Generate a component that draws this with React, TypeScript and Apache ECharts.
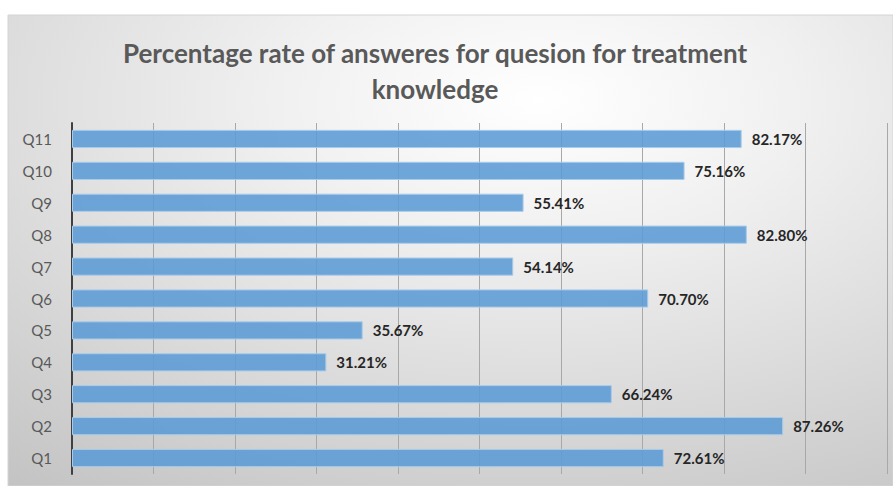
import React, { useEffect, useRef } from "react";
import * as echarts from "echarts";

const categories = ["Q1", "Q2", "Q3", "Q4", "Q5", "Q6", "Q7", "Q8", "Q9", "Q10", "Q11"];
const values = [72.61, 87.26, 66.24, 31.21, 35.67, 70.7, 54.14, 82.8, 55.41, 75.16, 82.17];
const titleLines = ["Percentage rate of answeres for quesion for treatment", "knowledge"];

export default function App() {
  const ref = useRef<HTMLDivElement>(null);
  useEffect(() => {
    if (!ref.current) return;
    const chart = echarts.init(ref.current, undefined, { renderer: "svg" });
    chart.setOption({
      animation: false,
      backgroundColor: "#ffffff",
      graphic: [
        {
          type: "rect",
          z: -10,
          silent: true,
          shape: { x: 8, y: 15, width: 885, height: 471 },
          style: {
            fill: new echarts.graphic.RadialGradient(0.6, 0.18, 1.0, [
              { offset: 0, color: "#ffffff" },
              { offset: 0.3, color: "#f0f0f0" },
              { offset: 1, color: "#c4c4c4" },
            ]),
            stroke: "#d4d4d4",
            lineWidth: 1,
          },
        },
      ],
      title: {
        text: titleLines.join("\n"),
        left: 430,
        textAlign: "center",
        top: 30,
        textStyle: {
          fontFamily: "Lato",
          fontSize: 26,
          fontWeight: "bold",
          color: "#595959",
          lineHeight: 36,
        },
      },
      grid: { left: 72, right: 6, top: 123, bottom: 12, containLabel: false },
      xAxis: {
        type: "value",
        min: 0,
        max: 100,
        interval: 10,
        axisLabel: { show: false },
        axisLine: { show: false },
        axisTick: { show: false },
        splitLine: { show: true, lineStyle: { color: "#a8a8a8", width: 1 } },
      },
      yAxis: {
        type: "category",
        data: categories,
        axisLine: { show: true, lineStyle: { color: "#404040", width: 2 } },
        axisTick: { show: false },
        axisLabel: {
          color: "#595959",
          fontSize: 15,
          fontFamily: "Lato",
          margin: 20,
        },
      },
      series: [
        {
          type: "bar",
          data: values,
          barWidth: "57%",
          itemStyle: {
            color: "rgba(91,155,213,0.88)",
            borderColor: "#a9cbe9",
            borderWidth: 1,
          },
          label: {
            show: true,
            position: "right",
            distance: 10,
            formatter: (p: any) => p.value.toFixed(2) + "%",
            fontFamily: "Lato",
            fontSize: 15,
            fontWeight: "bold",
            color: "#262626",
          },
        },
      ],
    });
    return () => chart.dispose();
  }, []);
  return (
    <div
      ref={ref}
      style={{ position: "absolute", left: 0, top: 0, width: 893, height: 486 }}
    />
  );
}
